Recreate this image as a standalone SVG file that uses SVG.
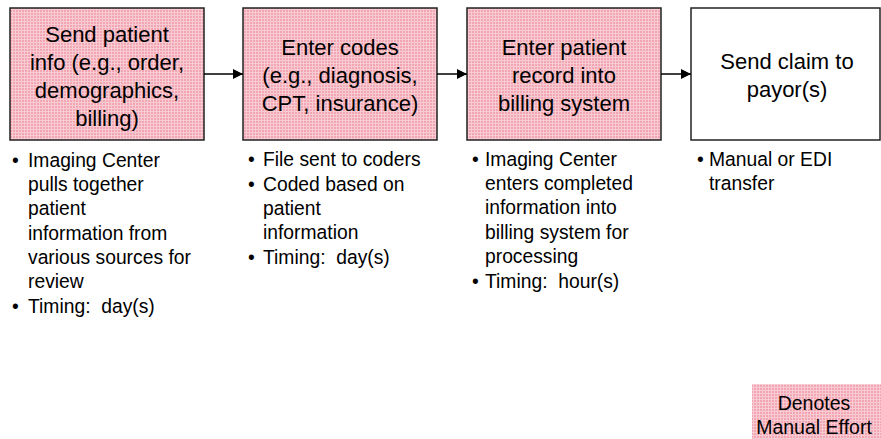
<svg xmlns="http://www.w3.org/2000/svg" width="881" height="439" viewBox="0 0 881 439">
<defs>
<pattern id="pink" width="3" height="3" patternUnits="userSpaceOnUse">
<rect width="3" height="3" fill="#F2A6B3"/>
<rect width="3" height="1" fill="#F8CAD1"/>
<rect width="1" height="3" fill="#F8CAD1"/>
</pattern>
<marker id="arr" markerWidth="10" markerHeight="10" refX="10" refY="5" orient="auto" markerUnits="userSpaceOnUse">
<path d="M0,0 L10,5 L0,10 Z" fill="#000"/>
</marker>
<style>
.box{stroke:#222;stroke-width:1.5}
.manual{fill:url(#pink)}
.auto{fill:#fff}
.bt{font-family:"Liberation Sans",Arial,sans-serif;font-size:22px;fill:#000;text-anchor:middle}
.bl{font-family:"Liberation Sans",Arial,sans-serif;font-size:19.3px;fill:#000;white-space:pre}
.lg{font-family:"Liberation Sans",Arial,sans-serif;font-size:19.5px;fill:#000;text-anchor:middle}
.conn{stroke:#000;stroke-width:1.5;fill:none}
</style>
</defs>
<rect width="881" height="439" fill="#fff"/>

<g id="node1">
<rect class="box manual" x="10" y="8" width="194" height="132"/>
<text class="bt" x="107" y="42">Send patient</text>
<text class="bt" x="107" y="70">info (e.g., order,</text>
<text class="bt" x="107" y="98">demographics,</text>
<text class="bt" x="107" y="126">billing)</text>
</g>
<g id="node2">
<rect class="box manual" x="243" y="8" width="194" height="132"/>
<text class="bt" x="340" y="55">Enter codes</text>
<text class="bt" x="340" y="83">(e.g., diagnosis,</text>
<text class="bt" x="340" y="111">CPT, insurance)</text>
</g>
<g id="node3">
<rect class="box manual" x="467" y="8" width="194" height="132"/>
<text class="bt" x="564" y="55">Enter patient</text>
<text class="bt" x="564" y="83">record into</text>
<text class="bt" x="564" y="111">billing system</text>
</g>
<g id="node4">
<rect class="box auto" x="691" y="8" width="189" height="132"/>
<text class="bt" x="787" y="69">Send claim to</text>
<text class="bt" x="787" y="97">payor(s)</text>
</g>

<g id="connectors">
<line class="conn" x1="204" y1="74" x2="243" y2="74" marker-end="url(#arr)"/>
<line class="conn" x1="437" y1="74" x2="467" y2="74" marker-end="url(#arr)"/>
<line class="conn" x1="661" y1="74" x2="691" y2="74" marker-end="url(#arr)"/>
</g>

<g id="notes1" class="bl">
<text x="12" y="167">•</text>
<text x="28" y="167">Imaging Center</text>
<text x="28" y="191">pulls together</text>
<text x="28" y="215">patient</text>
<text x="28" y="240">information from</text>
<text x="28" y="264">various sources for</text>
<text x="28" y="288">review</text>
<text x="12" y="313">•</text>
<text x="28" y="313" xml:space="preserve">Timing:  day(s)</text>
</g>
<g id="notes2" class="bl">
<text x="248" y="166">•</text>
<text x="263" y="166">File sent to coders</text>
<text x="248" y="191">•</text>
<text x="263" y="191">Coded based on</text>
<text x="263" y="215">patient</text>
<text x="263" y="239">information</text>
<text x="248" y="264">•</text>
<text x="263" y="264" xml:space="preserve">Timing:  day(s)</text>
</g>
<g id="notes3" class="bl">
<text x="472" y="166">•</text>
<text x="485" y="166">Imaging Center</text>
<text x="485" y="190">enters completed</text>
<text x="485" y="214">information into</text>
<text x="485" y="239">billing system for</text>
<text x="485" y="263">processing</text>
<text x="472" y="288">•</text>
<text x="485" y="288" xml:space="preserve">Timing:  hour(s)</text>
</g>
<g id="notes4" class="bl">
<text x="697" y="166">•</text>
<text x="709" y="166">Manual or EDI</text>
<text x="709" y="190">transfer</text>
</g>

<g id="legend">
<rect class="manual" x="752" y="384" width="129" height="55"/>
<text class="lg" x="814" y="410">Denotes</text>
<text class="lg" x="814" y="434">Manual Effort</text>
</g>
</svg>
